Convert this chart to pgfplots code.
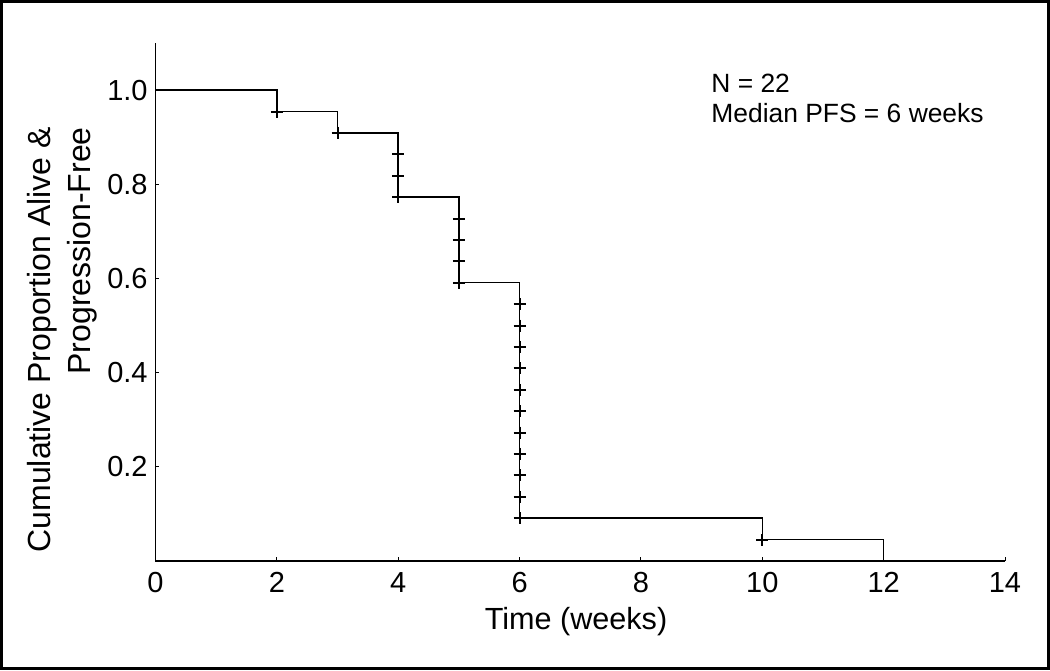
\documentclass[border=0pt]{standalone}
\usepackage{fontspec}
\setmainfont{Liberation Sans}
\usepackage{pgfplots}
\pgfplotsset{compat=1.18}
\begin{document}
\begin{tikzpicture}
\draw[line width=1.5pt] (0.75pt,0.75pt) rectangle (524.25pt,334.25pt);
\begin{axis}[
  at={(77.75pt,54.5pt)}, anchor=south west,
  scale only axis, width=424.75pt, height=259pt,
  xmin=0, xmax=14, ymin=0, ymax=1.1,
  axis x line=bottom, axis y line=left,
  axis line style={-, line width=0.75pt},
  xtick={0,2,4,6,8,10,12,14},
  ytick={0.2,0.4,0.6,0.8,1.0}, yticklabels={0.2,0.4,0.6,0.8,1.0},
  tick align=inside, major tick length=2pt,
  tick style={line width=0.5pt, black},
  /pgf/number format/assume math mode=true,
  ticklabel style={font=\fontsize{14.5}{17}\selectfont},
  xticklabel style={anchor=base, yshift=-15.5pt},
  yticklabel style={anchor=east, inner sep=0pt, xshift=-3.75pt},
  xlabel={Time (weeks)},
  xlabel style={font=\fontsize{15.3}{18}\selectfont, at={(axis description cs:0.495,-0.133)}, anchor=base},
  ylabel={Cumulative Proportion Alive \&\\Progression-Free},
  ylabel style={font=\fontsize{16}{20}\selectfont, align=right, at={(axis description cs:-0.110,0.427)}, anchor=center},
  clip=false
]
\addplot[const plot, black, line width=0.75pt, mark=none] coordinates {
  (0,1) (2,0.9545) (3,0.9091) (4,0.7727) (5,0.5909) (6,0.0909) (10,0.0455) (12,0)
};
\addplot[only marks, mark=+, mark size=3pt, black, mark options={line width=1pt}] coordinates {
  (2,0.9545) (3,0.9091)
  (4,0.8636) (4,0.8182) (4,0.7727)
  (5,0.7273) (5,0.6818) (5,0.6364) (5,0.5909)
  (6,0.5455) (6,0.5) (6,0.4545) (6,0.4091) (6,0.3636) (6,0.3182) (6,0.2727) (6,0.2273) (6,0.1818) (6,0.1364) (6,0.0909)
  (10,0.0455)
};
\node[anchor=base west, align=left, inner sep=0pt, font=\fontsize{13.2}{15}\selectfont] at (axis cs:9.155,0.932) {N = 22\\Median PFS = 6 weeks};
\end{axis}
\end{tikzpicture}
\end{document}
